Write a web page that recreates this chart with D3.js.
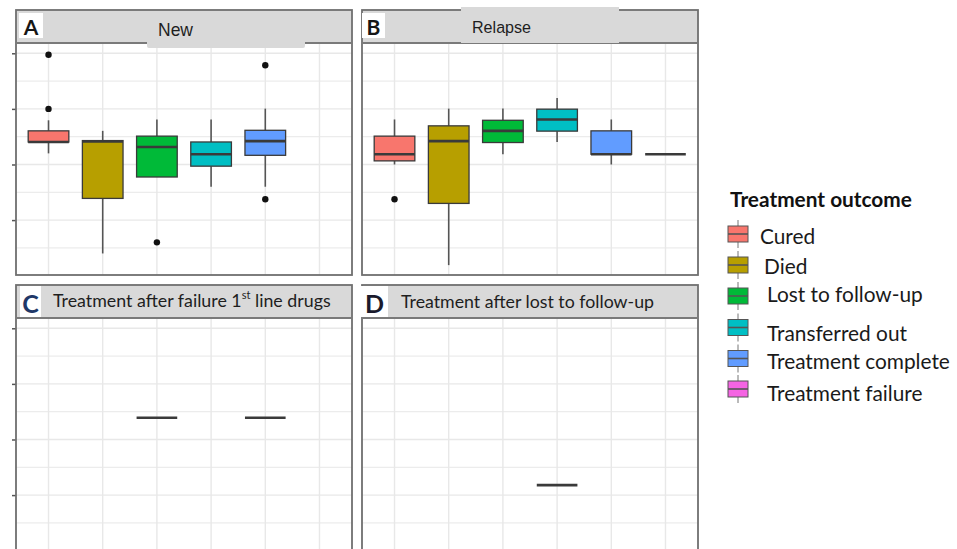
<!DOCTYPE html>
<html>
<head>
<meta charset="utf-8">
<script src="https://cdn.jsdelivr.net/npm/d3@7"></script>
<style>
  body { margin: 0; background: #fff; }
  svg { display: block; }
</style>
</head>
<body>
<svg id="chart" width="957" height="549"></svg>
<script>
// Treatment outcomes (x categories, fill legend)
const outcomes = ["Cured", "Died", "Lost to follow-up", "Transferred out", "Treatment complete", "Treatment failure"];
const outcomeColors = ["#F8766D", "#B79F00", "#00BA38", "#00BFC4", "#619CFF", "#F564E3"];

const panelLetters = ["A", "B", "C", "D"];
const panelTitles = ["New", "Relapse", "Treatment after failure 1st line drugs", "Treatment after lost to follow-up"];

// Box summaries per outcome: [lower whisker, Q1, median, Q3, upper whisker]; null = no patients
const statsNew = [
  [44.0, 48.1, 48.1, 52.1, 55.9],
  [8.0, 27.8, 48.3, 48.6, 52.1],
  [35.5, 35.5, 46.3, 50.2, 56.2],
  [32.0, 39.4, 43.7, 48.1, 56.2],
  [32.0, 43.3, 48.4, 52.3, 60.1],
  null
];
const outliersNew = [[79.5, 60.0], [], [12.0], [], [75.7, 27.5], []];

const statsRelapse = [
  [40.0, 41.3, 43.7, 50.2, 56.2],
  [3.8, 26.0, 48.4, 53.9, 60.1],
  [43.7, 47.9, 52.1, 55.9, 60.1],
  [48.1, 52.0, 56.2, 59.9, 63.9],
  [40.0, 43.7, 43.7, 52.1, 56.2],
  [43.7, 43.7, 43.7, 43.7, 43.7]
];
const outliersRelapse = [[27.5], [], [], [], [], []];

const statsFailure1st = [
  null, null,
  [47.8, 47.8, 47.8, 47.8, 47.8],
  null,
  [47.8, 47.8, 47.8, 47.8, 47.8],
  null
];
const outliersFailure1st = [[], [], [], [], [], []];

const statsAfterLost = [
  null, null, null,
  [23.6, 23.6, 23.6, 23.6, 23.6],
  null, null
];
const outliersAfterLost = [[], [], [], [], [], []];

const yDomain = [0.25, 83.7];
const yMajorTicks = [20, 40, 60, 80];
const yMinorTicks = [10, 30, 50, 70];

const legendTitle = "Treatment outcome";

// ---- layout ----
const panelStats = [statsNew, statsRelapse, statsFailure1st, statsAfterLost];
const panelOutliers = [outliersNew, outliersRelapse, outliersFailure1st, outliersAfterLost];

const layout = [
  { x0: 16,  x1: 352, y0: 10,  y1: 275, strip: 33, ticks: true,
    letterBox: [19, 13, 24, 25], letterSize: 21, letterColor: "#161616",
    titleX: 158, titleY: 30, titleW: 35, titleFont: "'Liberation Sans', Arial, sans-serif" },
  { x0: 362, x1: 698, y0: 10,  y1: 275, strip: 33, ticks: false,
    letterBox: [362, 13, 23, 25], letterSize: 21, letterColor: "#161616",
    titleX: 472, titleY: 27, titleW: 59, titleFont: "'Liberation Sans', Arial, sans-serif" },
  { x0: 16,  x1: 352, y0: 285, y1: 550, strip: 33, ticks: true,
    letterBox: [20, 286, 21, 31], letterSize: 25, letterColor: "#1f3868",
    titleX: 53, titleY: 300, titleW: 278, titleFont: "Lato, 'Open Sans', sans-serif" },
  { x0: 362, x1: 698, y0: 285, y1: 550, strip: 33, ticks: false,
    letterBox: [361, 286, 27, 31], letterSize: 25, letterColor: "#1a1a2c",
    titleX: 401, titleY: 301, titleW: 253, titleFont: "Lato, 'Open Sans', sans-serif" }
];

const svg = d3.select("#chart");

function fitWidth(sel, target) {
  const w = sel.node().getComputedTextLength();
  const fs = parseFloat(sel.attr("font-size"));
  if (w > 0) sel.attr("font-size", fs * target / w);
}

layout.forEach((L, p) => {
  const g = svg.append("g");
  const top = L.y0 + L.strip;
  const x = d3.scalePoint().domain(outcomes).range([L.x0, L.x1]).padding(0.6);
  const y = d3.scaleLinear().domain(yDomain).range([L.y1, top]);
  const bw = x.step() * 0.75;

  g.append("rect").attr("x", L.x0).attr("y", top).attr("width", L.x1 - L.x0).attr("height", L.y1 - top).attr("fill", "#fff");

  // grid
  const grid = g.append("g");
  grid.selectAll(".minor").data(yMinorTicks).join("line")
    .attr("x1", L.x0).attr("x2", L.x1).attr("y1", d => y(d)).attr("y2", d => y(d))
    .attr("stroke", "#ececec").attr("stroke-width", 1.2);
  grid.selectAll(".major").data(yMajorTicks).join("line")
    .attr("x1", L.x0).attr("x2", L.x1).attr("y1", d => y(d)).attr("y2", d => y(d))
    .attr("stroke", "#e8e8e8").attr("stroke-width", 1.4);
  grid.selectAll(".vert").data(outcomes).join("line")
    .attr("x1", d => x(d)).attr("x2", d => x(d)).attr("y1", top).attr("y2", L.y1)
    .attr("stroke", "#e8e8e8").attr("stroke-width", 1.4);

  // y ticks (no labels)
  if (L.ticks) {
    const ax = g.append("g").attr("transform", `translate(${L.x0},0)`)
      .call(d3.axisLeft(y).tickValues(yMajorTicks).tickSize(4).tickFormat(""));
    ax.select(".domain").remove();
    ax.selectAll("line").attr("stroke", "#555").attr("stroke-width", 1.5);
  }

  // boxes
  const stats = panelStats[p];
  stats.forEach((s, i) => {
    if (!s) return;
    const cx = x(outcomes[i]);
    const bg = g.append("g");
    bg.append("line").attr("x1", cx).attr("x2", cx).attr("y1", y(s[0])).attr("y2", y(s[1]))
      .attr("stroke", "#555").attr("stroke-width", 1.6);
    bg.append("line").attr("x1", cx).attr("x2", cx).attr("y1", y(s[3])).attr("y2", y(s[4]))
      .attr("stroke", "#555").attr("stroke-width", 1.6);
    if (s[3] > s[1]) {
      bg.append("rect").attr("x", cx - bw / 2).attr("y", y(s[3])).attr("width", bw)
        .attr("height", y(s[1]) - y(s[3])).attr("fill", outcomeColors[i])
        .attr("stroke", "#3a3a3a").attr("stroke-width", 1.3);
    }
    bg.append("line").attr("x1", cx - bw / 2).attr("x2", cx + bw / 2)
      .attr("y1", y(s[2])).attr("y2", y(s[2]))
      .attr("stroke", "#3a3a3a").attr("stroke-width", 2.6);
  });
  panelOutliers[p].forEach((pts, i) => {
    g.selectAll(null).data(pts).join("circle")
      .attr("cx", x(outcomes[i])).attr("cy", d => y(d)).attr("r", 3.2).attr("fill", "#111");
  });

  // strip
  g.append("rect").attr("x", L.x0).attr("y", L.y0).attr("width", L.x1 - L.x0).attr("height", L.strip)
    .attr("fill", "#d9d9d9");
  // frame
  g.append("rect").attr("x", L.x0).attr("y", L.y0).attr("width", L.x1 - L.x0).attr("height", L.y1 - L.y0)
    .attr("fill", "none").attr("stroke", "#6f6f6f").attr("stroke-width", 1.8);
  g.append("line").attr("x1", L.x0).attr("x2", L.x1).attr("y1", top).attr("y2", top)
    .attr("stroke", "#7a7a7a").attr("stroke-width", 1.8);

  // title label patches
  if (p === 0) {
    g.append("path").attr("d", `M${147},${L.y0 + 2}H${305}V${top + 3}Q${305},${top + 5} ${303},${top + 5}H${149}Q${147},${top + 5} ${147},${top + 3}Z`)
      .attr("fill", "#d9d9d9");
  }
  if (p === 1) {
    g.append("rect").attr("x", 461).attr("y", L.y0 - 3).attr("width", 158).attr("height", L.strip + 3)
      .attr("fill", "#d9d9d9");
  }

  // title
  const t = g.append("text").attr("x", L.titleX).attr("y", L.titleY)
    .attr("dominant-baseline", "central").attr("font-family", L.titleFont)
    .attr("font-size", 16).attr("fill", "#1e1e1e");
  if (p === 2) {
    t.append("tspan").text("Treatment after failure 1");
    t.append("tspan").attr("font-size", "0.62em").attr("dy", -6).text("st");
    t.append("tspan").attr("dy", 6).text(" line drugs");
  } else {
    t.text(panelTitles[p]);
  }
  fitWidth(t, L.titleW);

  // letter
  const [bx, by, bwid, bh] = L.letterBox;
  g.append("rect").attr("x", bx).attr("y", by).attr("width", bwid).attr("height", bh).attr("fill", "#fff");
  g.append("text").attr("x", bx + bwid / 2).attr("y", by + bh / 2 + 1)
    .attr("text-anchor", "middle").attr("dominant-baseline", "central")
    .attr("font-family", "Lato, 'Open Sans', sans-serif").attr("font-weight", 700)
    .attr("font-size", L.letterSize).attr("fill", L.letterColor).text(panelLetters[p]);
});

// ---- legend ----
const lg = svg.append("g");
const titleEl = lg.append("text").attr("x", 730).attr("y", 198).attr("dominant-baseline", "central")
  .attr("font-family", "Lato, 'Open Sans', sans-serif").attr("font-weight", 700)
  .attr("font-size", 18).attr("fill", "#111").text(legendTitle);
fitWidth(titleEl, 182);

const keyY = [234, 265, 296, 327.5, 358.5, 389];
const labelY = [235.5, 265, 293.5, 332, 360.5, 392];
const labelX = [760, 764, 767, 767, 767, 767];

const items = lg.selectAll(".item").data(outcomes).join("g");
items.each(function (d, i) {
  const it = d3.select(this);
  const cx = 738, cy = keyY[i];
  it.append("line").attr("x1", cx).attr("x2", cx).attr("y1", cy - 14).attr("y2", cy + 14)
    .attr("stroke", "#777").attr("stroke-width", 1);
  it.append("rect").attr("x", cx - 10).attr("y", cy - 8).attr("width", 20).attr("height", 16)
    .attr("fill", outcomeColors[i]).attr("stroke", "#555").attr("stroke-width", 1);
  it.append("line").attr("x1", cx - 10).attr("x2", cx + 10).attr("y1", cy).attr("y2", cy)
    .attr("stroke", "#555").attr("stroke-width", 1.6);
});
const labels = items.append("text")
  .attr("x", (d, i) => labelX[i]).attr("y", (d, i) => labelY[i])
  .attr("dominant-baseline", "central")
  .attr("font-family", "Lato, 'Open Sans', sans-serif").attr("font-size", 18)
  .attr("fill", "#1a1a1a").text(d => d);
// size legend text so the longest label spans its width
const longest = labels.filter(d => d === "Treatment complete");
const w0 = longest.node().getComputedTextLength();
labels.attr("font-size", 18 * 183 / w0);
</script>
</body>
</html>
